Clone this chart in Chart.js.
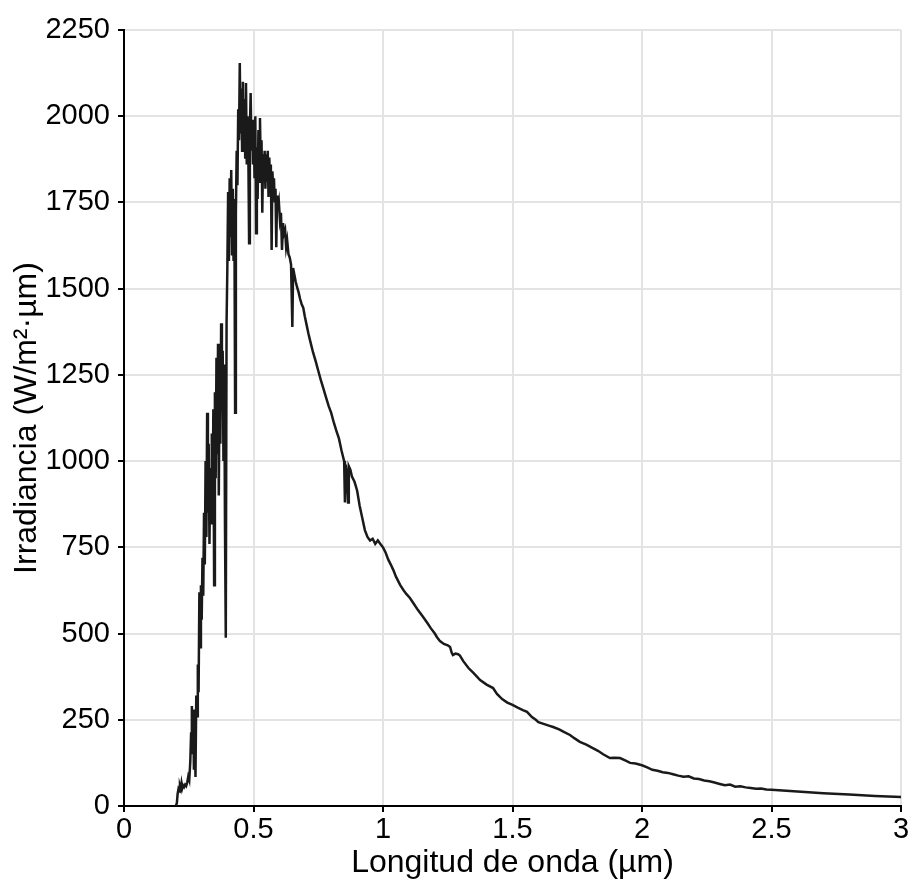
<!DOCTYPE html>
<html>
<head>
<meta charset="utf-8">
<title>Irradiancia espectral</title>
<script src="https://cdn.jsdelivr.net/npm/chart.js@4.4.0/dist/chart.umd.min.js"></script>
<style>
    html, body { margin: 0; padding: 0; background: #fff; }
    canvas { display: block; }
</style>
</head>
<body>
<canvas id="myChart" width="917" height="884"></canvas>
<script>
// longitud de onda (µm) e irradiancia (W/m²·µm)
const wavelengths = [
    0.200, 0.204, 0.207, 0.210, 0.213, 0.216, 0.219, 0.222, 0.225, 0.228,
    0.232, 0.236, 0.240, 0.244, 0.248, 0.252, 0.256, 0.259, 0.262, 0.265,
    0.267, 0.270, 0.273, 0.276, 0.279, 0.282, 0.285, 0.288, 0.291, 0.294,
    0.297, 0.300, 0.303, 0.306, 0.309, 0.312, 0.315, 0.318, 0.321, 0.324,
    0.327, 0.330, 0.333, 0.336, 0.339, 0.342, 0.345, 0.348, 0.351, 0.354,
    0.357, 0.360, 0.363, 0.366, 0.369, 0.372, 0.375, 0.378, 0.381, 0.384,
    0.387, 0.390, 0.393, 0.396, 0.399, 0.402, 0.405, 0.408, 0.411, 0.414,
    0.417, 0.420, 0.423, 0.426, 0.429, 0.432, 0.435, 0.438, 0.441, 0.444,
    0.447, 0.450, 0.453, 0.456, 0.459, 0.462, 0.465, 0.468, 0.471, 0.474,
    0.477, 0.480, 0.483, 0.486, 0.489, 0.492, 0.495, 0.498, 0.501, 0.504,
    0.507, 0.510, 0.513, 0.516, 0.519, 0.522, 0.525, 0.528, 0.531, 0.534,
    0.537, 0.540, 0.543, 0.546, 0.549, 0.552, 0.555, 0.558, 0.561, 0.564,
    0.567, 0.570, 0.573, 0.576, 0.579, 0.582, 0.585, 0.588, 0.591, 0.594,
    0.598, 0.602, 0.606, 0.610, 0.614, 0.618, 0.622, 0.626, 0.630, 0.635,
    0.640, 0.645, 0.650, 0.653, 0.658, 0.663, 0.668, 0.674, 0.680, 0.686,
    0.692, 0.698, 0.705, 0.712, 0.720, 0.730, 0.740, 0.750, 0.760, 0.770,
    0.780, 0.790, 0.800, 0.810, 0.820, 0.830, 0.840, 0.846, 0.850, 0.853,
    0.856, 0.861, 0.865, 0.868, 0.874, 0.880, 0.890, 0.900, 0.910, 0.920,
    0.930, 0.940, 0.950, 0.960, 0.970, 0.980, 0.990, 1.000, 1.010, 1.020,
    1.030, 1.040, 1.050, 1.066, 1.080, 1.090, 1.104, 1.120, 1.135, 1.155,
    1.170, 1.185, 1.200, 1.208, 1.220, 1.235, 1.250, 1.259, 1.265, 1.270,
    1.280, 1.290, 1.297, 1.310, 1.330, 1.350, 1.375, 1.400, 1.425, 1.440,
    1.460, 1.480, 1.500, 1.520, 1.540, 1.556, 1.575, 1.590, 1.600, 1.620,
    1.640, 1.657, 1.680, 1.700, 1.722, 1.740, 1.760, 1.785, 1.810, 1.830,
    1.850, 1.876, 1.895, 1.915, 1.935, 1.954, 1.975, 2.000, 2.020, 2.040,
    2.060, 2.080, 2.100, 2.120, 2.140, 2.160, 2.180, 2.200, 2.220, 2.240,
    2.260, 2.280, 2.300, 2.320, 2.340, 2.360, 2.380, 2.400, 2.420, 2.440,
    2.460, 2.480, 2.500, 2.600, 2.700, 2.800, 2.900, 3.000
]

const irradiance = [
    0, 8, 35, 48, 42, 58, 50, 66, 52, 60,
    55, 62, 58, 68, 85, 75, 130, 210, 290, 150,
    280, 105, 240, 84, 320, 260, 410, 330, 620, 460,
    640, 540, 720, 610, 850, 700, 1000, 780, 1140, 850,
    1050, 760, 980, 820, 1080, 870, 1150, 640, 1200, 950,
    1300, 1020, 1340, 900, 1250, 1050, 1400, 1150, 1320, 1000,
    1280, 800, 488, 1400, 1560, 1780, 1580, 1820, 1650, 1844,
    1600, 1790, 1580, 1760, 1140, 1720, 1900, 1800, 2020, 1930,
    2154, 1950, 2080, 1900, 2100, 1960, 2050, 1880, 2096, 1860,
    2000, 1900, 1632, 1960, 2067, 1900, 1990, 1860, 1970, 1820,
    2000, 1661, 1910, 1760, 1960, 1810, 1995, 1850, 1930, 1720,
    1890, 1830, 1900, 1790, 1890, 1810, 1900, 1766, 1880, 1810,
    1860, 1612, 1840, 1790, 1820, 1750, 1790, 1620, 1770, 1730,
    1750, 1700, 1720, 1612, 1690, 1660, 1670, 1620, 1640, 1600,
    1590, 1570, 1389, 1560, 1540, 1520, 1505, 1490, 1470, 1455,
    1445, 1420, 1395, 1370, 1345, 1315, 1290, 1262, 1235, 1210,
    1185, 1160, 1140, 1112, 1088, 1065, 1030, 1012, 1000, 880,
    990, 960, 880, 985, 975, 955, 940, 915, 870, 835,
    800, 780, 770, 775, 760, 770, 760, 750, 735, 715,
    700, 684, 665, 641, 625, 615, 603, 585, 568, 548,
    532, 515, 500, 490, 478, 470, 466, 461, 445, 438,
    442, 440, 436, 420, 400, 385, 365, 352, 342, 325,
    310, 300, 293, 285, 278, 273, 258, 250, 243, 238,
    233, 229, 222, 214, 206, 196, 186, 178, 168, 160,
    150, 139, 140, 139, 132, 125, 123, 118, 112, 105,
    102, 98, 96, 92, 88, 85, 86, 80, 78, 74,
    72, 68, 64, 60, 62, 56, 57, 54, 52, 50,
    51, 48, 47, 42, 37, 33, 29, 26
]

const xRange = [0, 3]
const xStep = 0.5
const yRange = [0, 2250]
const yStep = 250

const xTitle = 'Longitud de onda (µm)'
const yTitle = 'Irradiancia (W/m²·µm)'

const points = wavelengths.map((w, i) => ({ x: w, y: irradiance[i] }))

const fontFamily = '"Liberation Sans", Arial, sans-serif'
const gridColor = '#e3e3e3'
const inkColor = '#1a1a1a'

const ctx = document.getElementById('myChart')

new Chart(ctx, {
    type: 'line',
    data: {
        datasets: [{
            data: points,
            borderColor: inkColor,
            borderWidth: 2.5,
            pointRadius: 0,
            tension: 0,
            fill: false
        }]
    },
    options: {
        responsive: false,
        animation: false,
        parsing: false,
        layout: {
            padding: { left: 4, right: 16, top: 30, bottom: 0 }
        },
        plugins: {
            legend: { display: false },
            tooltip: { enabled: false }
        },
        scales: {
            x: {
                type: 'linear',
                min: xRange[0],
                max: xRange[1],
                ticks: {
                    stepSize: xStep,
                    color: '#000',
                    font: { family: fontFamily, size: 29 },
                    padding: 1,
                    maxRotation: 0,
                    callback: value => String(value)
                },
                grid: {
                    color: gridColor,
                    lineWidth: 2,
                    tickColor: '#000',
                    tickLength: 6
                },
                border: { color: '#000', width: 2 },
                title: {
                    display: true,
                    text: xTitle,
                    color: '#000',
                    font: { family: fontFamily, size: 32 },
                    padding: { top: 0, bottom: 2 }
                },
                afterFit: scale => { scale.height = 78 }
            },
            y: {
                min: yRange[0],
                max: yRange[1],
                ticks: {
                    stepSize: yStep,
                    color: '#000',
                    font: { family: fontFamily, size: 29 },
                    padding: 8,
                    callback: value => String(value)
                },
                grid: {
                    color: gridColor,
                    lineWidth: 2,
                    tickColor: '#000',
                    tickLength: 6
                },
                border: { color: '#000', width: 2 },
                title: {
                    display: true,
                    text: yTitle,
                    color: '#000',
                    font: { family: fontFamily, size: 32 },
                    padding: { top: 4, bottom: 0 }
                },
                afterFit: scale => { scale.width = 120 }
            }
        }
    }
})
</script>
</body>
</html>
